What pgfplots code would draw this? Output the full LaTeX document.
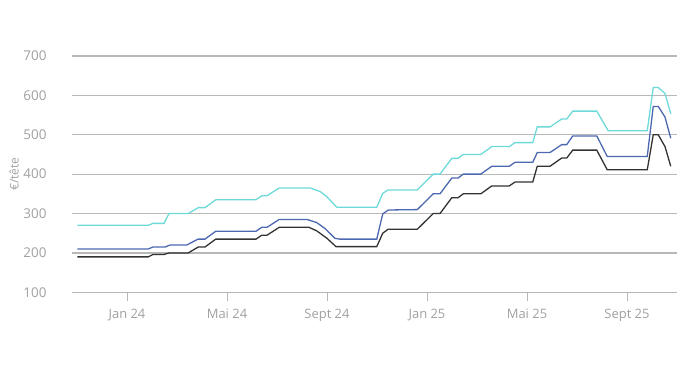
\documentclass[border=0pt]{standalone}
\usepackage{fontspec}
\setmainfont{Open Sans}
\usepackage{pgfplots}
\pgfplotsset{compat=1.18}
\definecolor{cyanl}{HTML}{6ED9D9}
\definecolor{bluel}{HTML}{4C68B0}
\definecolor{darkl}{HTML}{333333}
\definecolor{gridc}{HTML}{B8B8B8}
\definecolor{txtc}{HTML}{A0A0A0}
\begin{document}
\begin{tikzpicture}
\path[use as bounding box] (-72bp,-94.7bp) rectangle (618bp,292.3bp);
\begin{axis}[
  at={(0,0)}, anchor=south west,
  scale only axis, width=605bp, height=236.3bp,
  xmin=-2.2, xmax=22.0, ymin=100, ymax=700,
  axis x line*=bottom, axis y line*=left,
  x axis line style={gridc, line width=1.2bp, -},
  y axis line style={draw=none},
  tick align=outside,
  major tick length=9bp,
  xtick style={gridc, line width=1bp},
  ytick style={draw=none},
  ymajorgrids, grid style={gridc, line width=1.2bp},
  ytick={100,200,...,700},
  xtick={0,4,8,12,16,20},
  xticklabels={Jan 24, Mai 24, Sept 24, Jan 25, Mai 25, Sept 25},
  tick label style={font=\fontsize{13}{15}\selectfont, text=txtc},
  yticklabel style={font=\fontsize{13.5}{15}\selectfont},
  /pgf/number format/assume math mode=true,
  yticklabel style={xshift=-13bp},
  xticklabel style={yshift=-4bp},
  clip=false,
]
\addplot[cyanl, line width=1.3bp] coordinates {
(-1.99,270) (0.85,270) (1.04,275) (1.48,275) (1.68,300) (2.45,300) (2.85,315) (3.12,315) (3.55,335) (5.16,335) (5.39,345) (5.6,345) (6.09,365) (7.32,365) (7.72,356) (7.99,343) (8.39,316) (9.99,316) (10.23,351) (10.44,360) (11.61,360) (12.25,400) (12.52,400) (12.99,440) (13.24,440) (13.45,450) (14.15,450) (14.59,470) (15.29,470) (15.52,480) (16.23,480) (16.41,520) (16.92,520) (17.39,540) (17.59,540) (17.83,560) (18.79,560) (19.25,510) (20.81,510) (21.05,620) (21.25,620) (21.52,605) (21.75,553)
};
\addplot[bluel, line width=1.3bp] coordinates {
(-1.99,210) (0.85,210) (1.04,215) (1.52,215) (1.72,220) (2.39,220) (2.84,235) (3.12,235) (3.55,255) (5.16,255) (5.39,265) (5.6,265) (6.09,285) (7.2,285) (7.59,277) (7.92,262) (8.32,237) (8.52,235) (9.99,235) (10.23,299) (10.45,309) (11.61,310) (12.25,350) (12.52,350) (12.99,390) (13.24,390) (13.45,400) (14.15,400) (14.59,420) (15.29,420) (15.52,430) (16.23,430) (16.41,455) (16.92,455) (17.39,475) (17.59,475) (17.83,497) (18.79,497) (19.21,445) (20.81,445) (21.05,572) (21.25,572) (21.52,545) (21.75,491)
};
\addplot[darkl, line width=1.3bp] coordinates {
(-1.99,190) (0.85,190) (1.04,196) (1.48,196) (1.68,200) (2.45,200) (2.85,215) (3.12,215) (3.55,235) (5.16,235) (5.39,245) (5.6,245) (6.09,265) (7.28,265) (7.59,256) (8.0,237) (8.36,216) (9.99,216) (10.23,250) (10.44,260) (11.61,260) (12.25,300) (12.52,300) (12.99,340) (13.24,340) (13.45,350) (14.15,350) (14.59,370) (15.29,370) (15.52,380) (16.23,380) (16.41,420) (16.92,420) (17.39,441) (17.59,441) (17.83,461) (18.79,461) (19.21,411) (20.81,411) (21.05,500) (21.25,500) (21.52,470) (21.75,420)
};
\end{axis}
\node[rotate=90, text=txtc, font=\fontsize{12}{14}\selectfont] at (-58bp,118.15bp) {€/tête};
\end{tikzpicture}
\end{document}
